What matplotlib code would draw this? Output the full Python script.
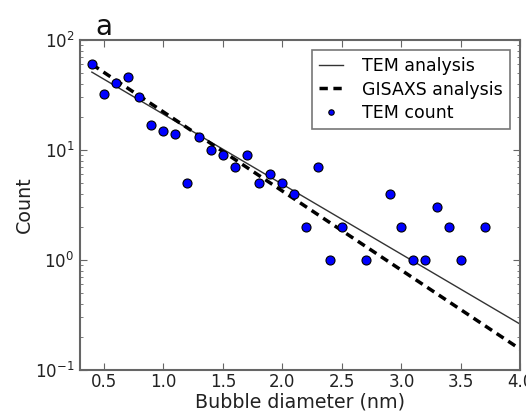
import numpy as np
import matplotlib
matplotlib.use("Agg")
import matplotlib.pyplot as plt

# TEM bubble counts per diameter bin
diameter = [0.4, 0.5, 0.6, 0.7, 0.8, 0.9, 1.0, 1.1, 1.2, 1.3, 1.4, 1.5, 1.6, 1.7,
            1.8, 1.9, 2.0, 2.1, 2.2, 2.3, 2.4, 2.5, 2.7, 2.9, 3.0, 3.1, 3.2, 3.3,
            3.4, 3.5, 3.7]
count = [61, 32, 41, 46, 30, 17, 15, 14, 5, 13, 10, 9, 7, 9,
         5, 6, 5, 4, 2, 7, 1, 2, 1, 4, 2, 1, 1, 3,
         2, 1, 2]

# fitted exponential distributions (straight on log axis), end points
tem_fit_x = [0.4, 4.0]
tem_fit_y = [51.0, 0.26]
gisaxs_fit_x = [0.4, 4.0]
gisaxs_fit_y = [60.0, 0.154]

fig = plt.figure(figsize=(5.26, 4.11), dpi=100)
ax = fig.add_axes([0.152, 0.0998, 0.8375, 0.803])

ax.plot(tem_fit_x, tem_fit_y, '-', color='#333333', lw=1.0, label='TEM analysis')
ax.plot(gisaxs_fit_x, gisaxs_fit_y, '--', color='black', lw=2.5, dashes=(2.4, 1.6),
        label='GISAXS analysis')
ax.plot(diameter, count, 'o', color='blue', mec='black', mew=0.8, ms=6.5,
        label='TEM count')

ax.set_yscale('log')
ax.set_xlim(0.3, 4.0)
ax.set_ylim(0.1, 100)
ax.set_xticks(np.arange(0.5, 4.01, 0.5))
ax.set_xticklabels(['0.5', '1.0', '1.5', '2.0', '2.5', '3.0', '3.5', '4.0'])

for s in ax.spines.values():
    s.set_color('#666666')
    s.set_linewidth(1.5)
ax.tick_params(which='both', direction='in', top=True, right=True,
               color='#666666', labelsize=12, labelcolor='#222222')
ax.tick_params(which='major', length=5)
ax.tick_params(which='minor', length=2.5)
ax.tick_params(axis='x', pad=2)
ax.tick_params(axis='y', pad=4)

ax.set_xlabel('Bubble diameter (nm)', fontsize=13.7, color='#222222', labelpad=1)
ax.set_ylabel('Count', fontsize=13.7, color='#222222')
ax.yaxis.set_label_coords(-0.105, 0.5)

leg = ax.legend(loc='upper right', numpoints=1, fontsize=12.5, fancybox=False,
                handlelength=1.4, handletextpad=1.1, labelspacing=0.3,
                borderaxespad=0.6, markerscale=0.6)
leg.get_frame().set_edgecolor('#555555')
leg.get_frame().set_linewidth(1.2)

fig.text(0.181, 0.915, 'a', fontsize=20, color='#111111')

fig.savefig('out.png', dpi=100)
